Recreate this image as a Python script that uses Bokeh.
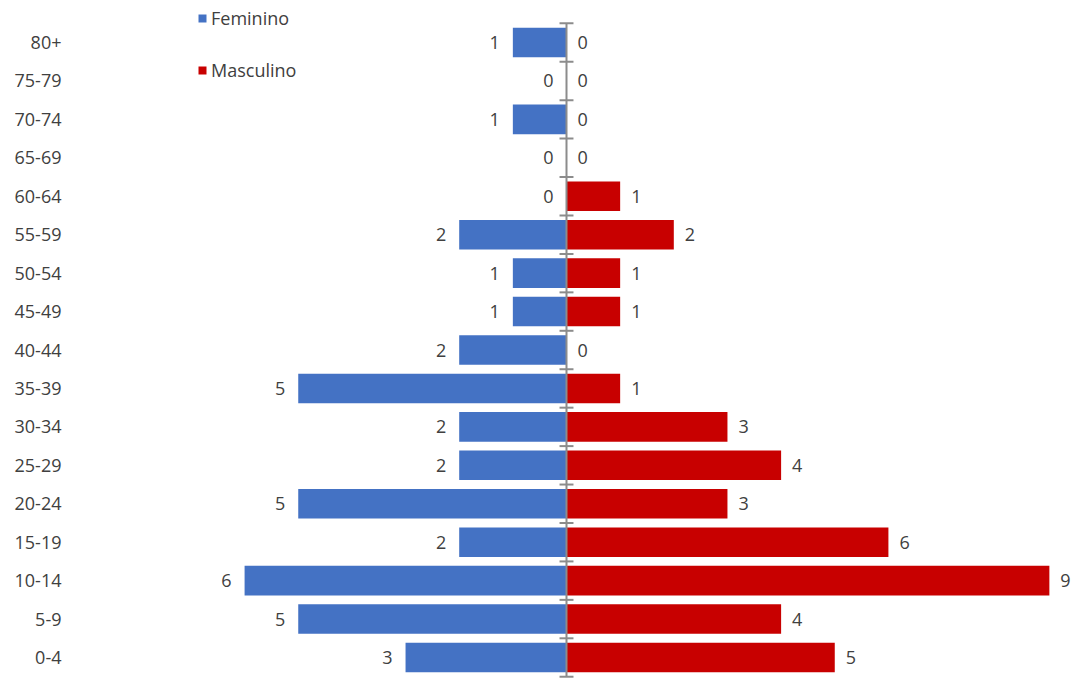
from bokeh.plotting import figure
from bokeh.models import (ColumnDataSource, Range1d, FixedTicker, Legend, LegendItem)
from bokeh.core.properties import value
from bokeh.embed import file_html
from bokeh.resources import INLINE

# ---- data (bottom to top) ----
age_groups = ["0-4", "5-9", "10-14", "15-19", "20-24", "25-29", "30-34", "35-39",
              "40-44", "45-49", "50-54", "55-59", "60-64", "65-69", "70-74", "75-79", "80+"]
feminino = [3, 5, 6, 2, 5, 2, 2, 5, 2, 1, 1, 2, 0, 0, 1, 0, 1]
masculino = [5, 4, 9, 6, 3, 4, 3, 1, 0, 1, 1, 2, 1, 0, 0, 0, 0]

BLUE = "#4472C4"
RED = "#C80000"
TXT = "#404040"
AXIS = "#8C8C8C"
FONT = "Open Sans"
FS = "18px"

idx = list(range(len(age_groups)))
src = ColumnDataSource(dict(
    y=idx,
    fl=[-v for v in feminino],
    mr=masculino,
    zero=[0] * len(idx),
    ft=[str(v) for v in feminino],
    mt=[str(v) for v in masculino],
))

p = figure(width=1075, height=678, output_backend="svg", toolbar_location=None,
           x_range=Range1d(-9.282, 9.487), y_range=Range1d(-0.546, 17.093),
           min_border_left=68, min_border_right=0, min_border_top=0, min_border_bottom=0,
           x_axis_location=None)
p.outline_line_color = None
p.xgrid.visible = False
p.ygrid.visible = False
p.background_fill_color = "white"
p.border_fill_color = "white"

# y axis with category labels
ya = p.yaxis[0]
ya.ticker = FixedTicker(ticks=idx)
ya.major_label_overrides = {i: g for i, g in zip(idx, age_groups)}
ya.axis_line_color = None
ya.major_tick_line_color = None
ya.minor_tick_line_color = None
ya.major_tick_out = 0
ya.major_tick_in = 0
ya.major_label_standoff = 7
ya.major_label_text_font = FONT
ya.major_label_text_font_size = FS
ya.major_label_text_color = TXT

BAR_H = 0.77
rf = p.hbar(y="y", left="fl", right="zero", height=BAR_H, source=src,
            fill_color=BLUE, line_color=None)
rm = p.hbar(y="y", left="zero", right="mr", height=BAR_H, source=src,
            fill_color=RED, line_color=None)

# central axis line with category boundary ticks
bounds = [i - 0.5 for i in range(len(age_groups) + 1)]
p.segment(x0=[0], y0=[bounds[0]], x1=[0], y1=[bounds[-1]], line_color=AXIS, line_width=2)
p.segment(x0=[-0.13] * len(bounds), y0=bounds, x1=[0.13] * len(bounds), y1=bounds,
          line_color=AXIS, line_width=2)

# data labels
p.text(x="fl", y="y", text="ft", source=src, text_align="right", text_baseline="middle",
       x_offset=-13, text_font=value(FONT), text_font_size=FS, text_color=TXT)
p.text(x="mr", y="y", text="mt", source=src, text_align="left", text_baseline="middle",
       x_offset=11, text_font=value(FONT), text_font_size=FS, text_color=TXT)

legend = Legend(items=[LegendItem(label="Feminino", renderers=[rf]),
                       LegendItem(label="Masculino", renderers=[rm])],
                location=(129, 596), orientation="vertical",
                glyph_width=10, glyph_height=10, label_standoff=4,
                spacing=28, padding=0, margin=0,
                border_line_color=None, background_fill_alpha=0,
                label_text_font=FONT, label_text_font_size=FS, label_text_color=TXT)
p.add_layout(legend)

open("out.html", "w").write(file_html(p, INLINE))
